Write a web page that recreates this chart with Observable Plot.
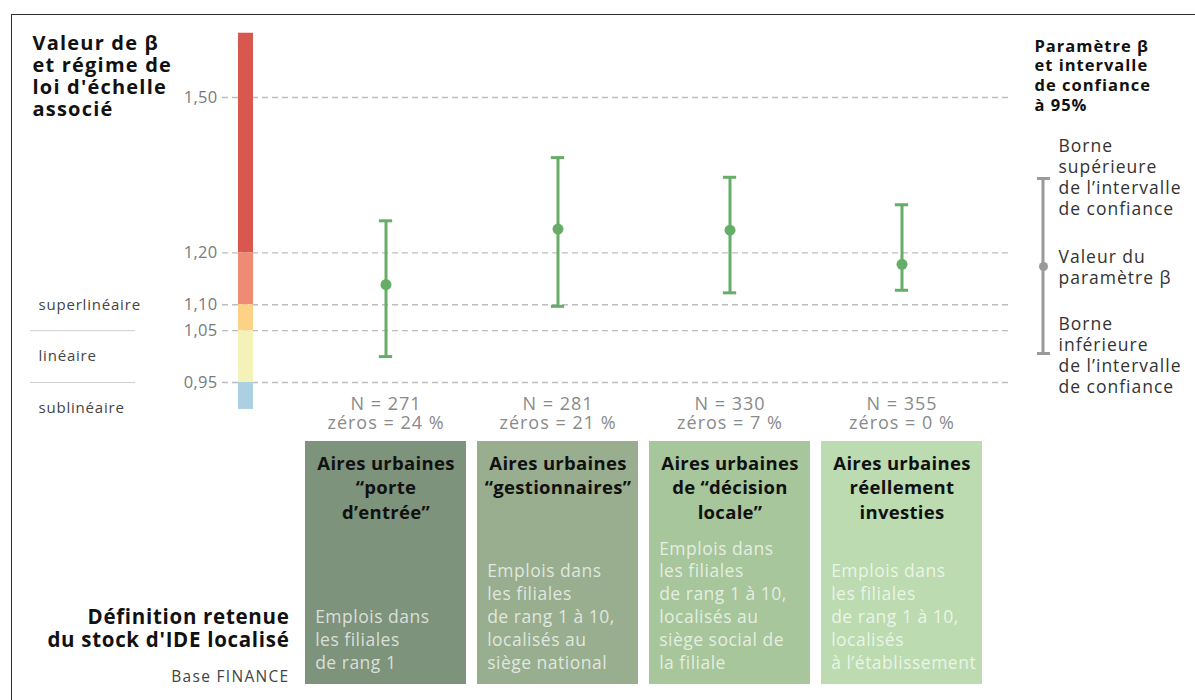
<!DOCTYPE html>
<html>
<head>
<meta charset="utf-8">
<script src="https://cdn.jsdelivr.net/npm/d3@7"></script>
<script src="https://cdn.jsdelivr.net/npm/@observablehq/plot@0.6"></script>
<style>
  html, body { margin: 0; padding: 0; background: #fff; }
  #wrap { position: relative; width: 1195px; height: 700px; overflow: hidden; font-family: "Open Sans", sans-serif; }
  #wrap svg { display: block; }
  #border { position: absolute; left: 11px; top: 14px; width: 1300px; height: 800px;
            border-top: 1.5px solid #2d2d2d; border-left: 1.5px solid #2d2d2d; pointer-events: none; }
</style>
</head>
<body>
<div id="wrap"><div id="border"></div></div>
<script>
// ---------- data ----------
const categories = ["porte d'entrée", "gestionnaires", "décision locale", "réellement investies"];
const beta   = [1.139, 1.246, 1.244, 1.178];
const ciLow  = [1.000, 1.097, 1.123, 1.128];
const ciHigh = [1.262, 1.384, 1.346, 1.293];
const nObs = [271, 281, 330, 355];
const zeroShare = [24, 21, 7, 0];
const boxTitles = [
  "Aires urbaines\n“porte\nd’entrée”",
  "Aires urbaines\n“gestionnaires”",
  "Aires urbaines\nde “décision\nlocale”",
  "Aires urbaines\nréellement\ninvesties"
];
const boxDefs = [
  "Emplois dans\nles filiales\nde rang 1",
  "Emplois dans\nles filiales\nde rang 1 à 10,\nlocalisés au\nsiège national",
  "Emplois dans\nles filiales\nde rang 1 à 10,\nlocalisés au\nsiège social de\nla filiale",
  "Emplois dans\nles filiales\nde rang 1 à 10,\nlocalisés\nà l’établissement"
];
const yTicks = [1.50, 1.20, 1.10, 1.05, 0.95];
const regimeTop = [1.624, 1.20, 1.10, 1.05, 0.95];
const regimeBottom = [1.20, 1.10, 1.05, 0.95, 0.898];
const regimeNames = ["superlinéaire", "linéaire", "sublinéaire"];
const regimeNameAt = [1.10, 1.00, 0.90];
const regimeSeparators = [1.05, 0.95];

// ---------- styles ----------
const regimeColors = ["#d85850", "#ef8b74", "#fdd287", "#f4f2b8", "#abd0e2"];
const boxColors = ["#7e937b", "#98ae8f", "#a7c69b", "#bcdbb0"];
const green = "#66ad68";
const grey = "#9a9a9a";
const fmt = v => d3.format(".2f")(v).replace(".", ",");
const spacing = {
  "title": "1.2px", "legend-title": "1px", "legend-text": "1px", "n-label": "1px",
  "regime": "0.8px", "box-title": "0.3px", "box-def": "0.5px", "def-title": "0.7px", "source": "1.3px", "tick": "0.3px"
};
const tag = name => () => name;

const rows = categories.map((c, i) => ({
  cat: c, beta: beta[i], lo: ciLow[i], hi: ciHigh[i],
  n: `N = ${nObs[i]}`, z: `zéros = ${zeroShare[i]} %`,
  title: boxTitles[i], def: boxDefs[i], color: boxColors[i]
}));
const bands = regimeTop.map((t, i) => ({top: t, bottom: regimeBottom[i], color: regimeColors[i]}));

const xRange = [303, 983];
const paddingInner = 0.064;
const step = (xRange[1] - xRange[0]) / (categories.length - paddingInner);
const bw = step * (1 - paddingInner);

// legend glyph (in beta units)
const legend = {hi: 1.3437, mid: 1.1739, lo: 1.006};

const chartTop = Plot.plot({
  width: 1195, height: 436,
  marginLeft: 222, marginRight: 187, marginTop: 0, marginBottom: 0,
  style: {fontFamily: "Open Sans", fontSize: "16px", background: "transparent"},
  x: {type: "band", domain: categories, range: xRange, paddingInner, paddingOuter: 0, axis: null},
  y: {domain: [0.95, 1.5], range: [382, 97], axis: null},
  color: {type: "identity"},
  marks: [
    Plot.ruleY(yTicks, {stroke: "#bdbdbd", strokeWidth: 1.3, strokeDasharray: "6,4"}),
    Plot.text(yTicks, {y: d => d, text: d => fmt(d), frameAnchor: "left", textAnchor: "end", dx: -5, fill: "#7a7a7a", fontSize: 16.5, ariaLabel: tag("tick")}),
    Plot.rect(bands, {y1: "bottom", y2: "top", fill: "color", insetLeft: 16, insetRight: 755}),
    Plot.ruleY(regimeSeparators, {stroke: "#cfcfcf", strokeWidth: 1, insetLeft: -192, insetRight: 873}),
    Plot.text(regimeNames, {y: (d, i) => regimeNameAt[i], text: d => d, frameAnchor: "left", textAnchor: "start", dx: -184, fill: "#444", fontSize: 15, ariaLabel: tag("regime")}),
    Plot.text(["Valeur de β\net régime de\nloi d'échelle\nassocié"], {frameAnchor: "top-left", textAnchor: "start", lineAnchor: "top", dx: -190, dy: 34, fontSize: 20, fontWeight: "bold", lineHeight: 1.1, fill: "#111", ariaLabel: tag("title")}),
    // error bars
    Plot.ruleX(rows, {x: "cat", y1: "lo", y2: "hi", stroke: green, strokeWidth: 3}),
    Plot.tickY(rows, {x: "cat", y: "hi", stroke: green, strokeWidth: 3, inset: (bw - 14) / 2}),
    Plot.tickY(rows, {x: "cat", y: "lo", stroke: green, strokeWidth: 3, inset: (bw - 14) / 2}),
    Plot.dot(rows, {x: "cat", y: "beta", r: 5.5, fill: green}),
    Plot.text(rows, {x: "cat", text: "n", frameAnchor: "bottom", lineAnchor: "middle", dy: -32, fill: "#8a8a8a", fontSize: 18, ariaLabel: tag("n-label")}),
    Plot.text(rows, {x: "cat", text: "z", frameAnchor: "bottom", lineAnchor: "middle", dy: -13, fill: "#8a8a8a", fontSize: 18, ariaLabel: tag("n-label")}),
    // legend
    Plot.text(["Paramètre β\net intervalle\nde confiance\nà 95%"], {frameAnchor: "top-left", textAnchor: "start", lineAnchor: "top", dx: 812, dy: 37, fontSize: 16.5, fontWeight: "bold", lineHeight: 19.7 / 16.5, fill: "#111", ariaLabel: tag("legend-title")}),
    Plot.rect([legend], {y1: "lo", y2: "hi", fill: grey, insetLeft: 819.5, insetRight: -36.5}),
    Plot.ruleY([legend.hi, legend.lo], {stroke: grey, strokeWidth: 3, insetLeft: 815, insetRight: -42}),
    Plot.dot([legend.mid], {y: d => d, frameAnchor: "left", dx: 821, r: 4.5, fill: grey}),
    Plot.text(["Borne\nsupérieure\nde l’intervalle\nde confiance", "Valeur du\nparamètre β", "Borne\ninférieure\nde l’intervalle\nde confiance"],
      {y: [legend.hi + 0.003, legend.mid, legend.lo - 0.003], text: d => d, frameAnchor: "left", textAnchor: "start", lineAnchor: "middle", dx: 836, fontSize: 17.5, lineHeight: 21 / 17.5, fill: "#333", ariaLabel: tag("legend-text")})
  ]
});

const chartBottom = Plot.plot({
  width: 1195, height: 264,
  marginLeft: 303, marginRight: 212, marginTop: 5, marginBottom: 16,
  style: {fontFamily: "Open Sans", fontSize: "16px", background: "transparent"},
  x: {type: "band", domain: categories, range: xRange, paddingInner, paddingOuter: 0, axis: null},
  color: {type: "identity"},
  marks: [
    Plot.cell(rows, {x: "cat", fill: "color"}),
    Plot.text(rows, {x: "cat", text: "title", frameAnchor: "top", lineAnchor: "top", dy: 11, fontSize: 18.5, fontWeight: "bold", lineHeight: 24.5 / 18.5, fill: "#111", ariaLabel: tag("box-title")}),
    Plot.text(rows, {x: "cat", text: "def", frameAnchor: "bottom", lineAnchor: "bottom", textAnchor: "start", dx: -bw / 2 + 10, dy: -16, fontSize: 17.5, lineHeight: 22.8 / 17.5, fill: "#ffffff", fillOpacity: 0.72, ariaLabel: tag("box-def")}),
    Plot.text(["Définition retenue\ndu stock d'IDE localisé"], {frameAnchor: "top-left", textAnchor: "end", lineAnchor: "middle", dx: -14, dy: 187, fontSize: 20.5, fontWeight: "bold", lineHeight: 23 / 20.5, fill: "#111", ariaLabel: tag("def-title")}),
    Plot.text(["Base FINANCE"], {frameAnchor: "top-left", textAnchor: "end", lineAnchor: "middle", dx: -14, dy: 236, fontSize: 15.5, fill: "#444", ariaLabel: tag("source")})
  ]
});

for (const svg of [chartTop, chartBottom]) {
  for (const [label, ls] of Object.entries(spacing)) {
    d3.select(svg).selectAll(`text[aria-label="${label}"]`).style("letter-spacing", ls);
  }
}

const wrap = document.getElementById("wrap");
wrap.insertBefore(chartTop, wrap.firstChild);
wrap.insertBefore(chartBottom, document.getElementById("border"));
</script>
</body>
</html>
